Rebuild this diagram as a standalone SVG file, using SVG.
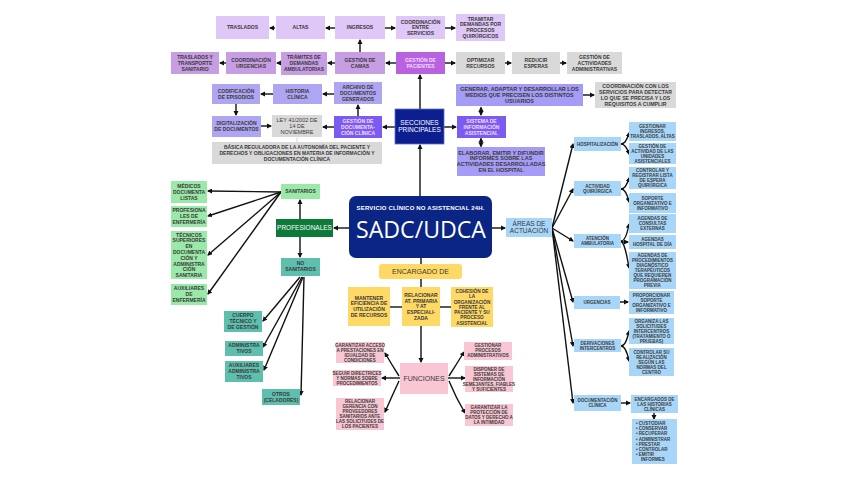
<svg xmlns="http://www.w3.org/2000/svg" width="848" height="477" viewBox="0 0 848 477">
<style>
text{font-family:"Liberation Sans",Arial,sans-serif;font-weight:bold;font-size:5px;fill:#3a3a3a;text-anchor:middle}
.s text{font-size:4.5px}
.lp{fill:#dfc7f7}.mp{fill:#c79de4}.bp{fill:#b862e0}.gr{fill:#d9d9d9}.lv{fill:#aea6f3}.vi{fill:#7c5cf0}.nv{fill:#0d1f8f;stroke:#5a6fd0;stroke-width:0.8}
.ye{fill:#ffd966}.pk{fill:#f9c6d3}.lg{fill:#9be9a8}.dg{fill:#0e7a3a}.tl{fill:#5ebfae}.lb{fill:#a8d6f9}
.w text,text.w{fill:#ffffff}.lt text{fill:#f2dcff}
.c path{fill:none;stroke:#111;stroke-width:1.4;marker-end:url(#a)}
.c path.d{marker-start:url(#a)}
.c path.n{marker-end:none}
</style>
<defs>
<marker id="a" viewBox="0 0 10 10" refX="8" refY="5" markerWidth="3.6" markerHeight="3.6" orient="auto-start-reverse"><path d="M0,0 L10,5 L0,10 z" fill="#111"/></marker>
</defs>
<rect width="848" height="477" fill="#ffffff"/>

<g class="c" id="connectors">
<path d="M275,28 H270"/>
<path d="M335,28 H326"/>
<path d="M385,28 H395"/>
<path d="M445,28 H455"/>
<path d="M396,63 H386"/>
<path d="M335,63 H328"/>
<path d="M281,63 H277"/>
<path d="M226,63 H220"/>
<path d="M360,52 V40"/>
<path d="M445,63 H455"/>
<path d="M505,63 H511"/>
<path d="M560,63 H566"/>
<path d="M420,109 V75"/>
<path d="M334,94 H323"/>
<path d="M273,94 H261"/>
<path d="M236,104 V115"/>
<path d="M261,126 H271"/>
<path d="M334,127 H323"/>
<path d="M358,116 V105"/>
<path d="M395,127 H383"/>
<path d="M297,137.5 V142" class="n" style="stroke:#bbb;stroke-width:0.6"/>
<path d="M444,127 H456"/>
<path d="M481,115 V107.5" class="d"/>
<path d="M481,138.5 V146.5" class="d"/>
<path d="M583,95 H594"/>
<path d="M420,196 V145"/>
<path d="M349,228 H334"/>
<path d="M492,228 H505"/>
<path d="M421,258 V264" class="n"/>
<path d="M421,279 V287" class="n"/>
<path d="M390,307 H402" class="n"/>
<path d="M440,307 H451" class="n"/>
<path d="M421,326 V362"/>
<path d="M300,219 V200"/>
<path d="M300,237 V257"/>
<path d="M281,192 L208,191"/>
<path d="M281,192 L208,216"/>
<path d="M281,192 L208,255"/>
<path d="M281,192 L208,294"/>
<path d="M300,277 L263,321"/>
<path d="M302,277 L263,347"/>
<path d="M303,277 L264,370"/>
<path d="M304,277 L301,395"/>
<path d="M552,228 L573,144"/>
<path d="M552,228 L573,189"/>
<path d="M552,228 L573,241"/>
<path d="M552,228 L573,302"/>
<path d="M552,228 L573,346"/>
<path d="M552,228 L573,403"/>
<path d="M621,144 Q626,144 629,133"/>
<path d="M621,144 Q626,144 629,154"/>
<path d="M621,189 Q626,189 629,178"/>
<path d="M621,189 Q626,189 629,202"/>
<path d="M621,241 Q626,241 629,224"/>
<path d="M621,242 H628"/>
<path d="M621,241 Q625,243 629,268"/>
<path d="M620,302 H628"/>
<path d="M621,346 Q626,346 629,331"/>
<path d="M621,346 Q626,346 629,361"/>
<path d="M621,403 H630"/>
<path d="M654,413 V419"/>
<path d="M399,376 Q392,365 385,353"/>
<path d="M400,378 H382"/>
<path d="M399,381 Q392,396 385,412"/>
<path d="M449,376 Q456,365 464,352"/>
<path d="M448,378 H465"/>
<path d="M449,381 Q456,398 465,413"/>
</g>

<g id="traslados"><rect class="lp" x="216" y="16" width="53" height="23"/><text x="242.5" y="29.3">TRASLADOS</text></g>
<g id="altas"><rect class="lp" x="276" y="16" width="49" height="23"/><text x="300.5" y="29.3">ALTAS</text></g>
<g id="ingresos"><rect class="lp" x="335" y="16" width="50" height="23"/><text x="360" y="29.3">INGRESOS</text></g>
<g id="coord-servicios"><rect class="lp" x="396" y="16" width="49" height="23"/><text x="420.5" y="23.5">COORDINACIÓN</text><text x="420.5" y="29.3">ENTRE</text><text x="420.5" y="35.1">SERVICIOS</text></g>
<g id="tramitar"><rect class="lp" x="456" y="14" width="49" height="27"/><text x="480.5" y="20.6">TRAMITAR</text><text x="480.5" y="26.4">DEMANDAS POR</text><text x="480.5" y="32.2">PROCESOS</text><text x="480.5" y="38">QUIRÚRGICOS</text></g>

<g id="traslados-transporte"><rect class="mp" x="171" y="52" width="48" height="22"/><text x="195" y="59">TRASLADOS Y</text><text x="195" y="64.8">TRANSPORTE</text><text x="195" y="70.6">SANITARIO</text></g>
<g id="coord-urgencias"><rect class="mp" x="226" y="52" width="50" height="22"/><text x="251" y="61.9">COORDINACIÓN</text><text x="251" y="67.7">URGENCIAS</text></g>
<g id="tramites"><rect class="mp" x="281" y="52" width="46" height="23"/><text x="304" y="59">TRÁMITES DE</text><text x="304" y="64.8">DEMANDAS</text><text x="304" y="70.6">AMBULATORIAS</text></g>
<g id="gestion-camas"><rect class="mp" x="335" y="52" width="50" height="22"/><text x="360" y="61.9">GESTIÓN DE</text><text x="360" y="67.7">CAMAS</text></g>
<g id="gestion-pacientes" class="lt"><rect class="bp" x="396" y="52" width="49" height="22"/><text x="420.5" y="61.9">GESTIÓN DE</text><text x="420.5" y="67.7">PACIENTES</text></g>
<g id="optimizar"><rect class="gr" x="456" y="52" width="49" height="22"/><text x="480.5" y="61.9">OPTIMIZAR</text><text x="480.5" y="67.7">RECURSOS</text></g>
<g id="reducir"><rect class="gr" x="512" y="52" width="48" height="22"/><text x="536" y="61.9">REDUCIR</text><text x="536" y="67.7">ESPERAS</text></g>
<g id="gestion-actividades"><rect class="gr" x="567" y="52" width="55" height="22"/><text x="594.5" y="59">GESTIÓN DE</text><text x="594.5" y="64.8">ACTIVIDADES</text><text x="594.5" y="70.6">ADMINISTRATIVAS</text></g>

<g id="codificacion"><rect class="lv" x="212" y="84" width="48" height="20"/><text x="236" y="92.9">CODIFICACIÓN</text><text x="236" y="98.7">DE EPISODIOS</text></g>
<g id="historia"><rect class="lv" x="273" y="84" width="49" height="20"/><text x="297.5" y="92.9">HISTORIA</text><text x="297.5" y="98.7">CLÍNICA</text></g>
<g id="archivo"><rect class="lv" x="334" y="82" width="48" height="22"/><text x="358" y="88.9">ARCHIVO DE</text><text x="358" y="94.7">DOCUMENTOS</text><text x="358" y="100.5">GENERADOS</text></g>
<g id="digitalizacion"><rect class="lv" x="212" y="116" width="49" height="21"/><text x="236.5" y="125.4">DIGITALIZACIÓN</text><text x="236.5" y="131.2">DE DOCUMENTOS</text></g>
<g id="ley"><rect class="gr" x="272" y="115" width="50" height="22"/><text x="297" y="121.9" style="font-weight:normal;font-size:5.5px">LEY 41/2002 DE</text><text x="297" y="127.7" style="font-weight:normal;font-size:5.5px">14 DE</text><text x="297" y="133.5" style="font-weight:normal;font-size:5.5px">NOVIEMBRE</text></g>
<g id="gestion-documentacion" class="lt"><rect class="vi" x="334" y="116" width="48" height="22"/><text x="358" y="122.9">GESTIÓN DE</text><text x="358" y="128.7">DOCUMENTA-</text><text x="358" y="134.5">CIÓN CLÍNICA</text></g>
<g id="basica"><rect class="gr" x="212" y="142" width="170" height="22"/><text x="297" y="148.9">BÁSICA REGULADORA DE LA AUTONOMÍA DEL PACIENTE Y</text><text x="297" y="154.7">DERECHOS Y OBLIGACIONES EN MATERIA DE INFORMACIÓN Y</text><text x="297" y="160.5">DOCUMENTACIÓN CLÍNICA</text></g>

<g id="secciones" class="w"><rect class="nv" x="395" y="109" width="49" height="35"/><text x="419.5" y="124.5" style="font-size:6.5px;font-weight:normal">SECCIONES</text><text x="419.5" y="132" style="font-size:6.5px;font-weight:normal">PRINCIPALES</text></g>
<g id="sistema" class="lt"><rect class="vi" x="457" y="116" width="49" height="22"/><text x="481.5" y="122.9">SISTEMA DE</text><text x="481.5" y="128.7">INFORMACIÓN</text><text x="481.5" y="134.5">ASISTENCIAL</text></g>
<g id="generar"><rect class="lv" x="456" y="84" width="127" height="22" style="fill:#a49cf6"/><text x="519.5" y="90.9" style="font-size:5.5px">GENERAR, ADAPTAR Y DESARROLLAR LOS</text><text x="519.5" y="96.7" style="font-size:5.5px">MEDIOS QUE PRECISEN LOS DISTINTOS</text><text x="519.5" y="102.5" style="font-size:5.5px">USUARIOS</text></g>
<g id="elaborar"><rect class="lv" x="457" y="147" width="88" height="29" style="fill:#a49cf6"/><text x="501" y="154.6" style="font-size:5.5px">ELABORAR, EMITIR Y DIFUNDIR</text><text x="501" y="160.4" style="font-size:5.5px">INFORMES SOBRE LAS</text><text x="501" y="166.2" style="font-size:5.5px">ACTIVIDADES DESARROLLADAS</text><text x="501" y="172" style="font-size:5.5px">EN EL HOSPITAL</text></g>
<g id="coord-detectar"><rect class="gr" x="595" y="82" width="81" height="26"/><text x="635.5" y="88.1" style="font-size:5.2px">COORDINACIÓN CON LOS</text><text x="635.5" y="93.9" style="font-size:5.2px">SERVICIOS PARA DETECTAR</text><text x="635.5" y="99.7" style="font-size:5.2px">LO QUE SE PRECISA Y LOS</text><text x="635.5" y="105.5" style="font-size:5.2px">REQUISITOS A CUMPLIR</text></g>

<g id="sadc"><rect x="349" y="196" width="143" height="62" rx="7" fill="#0b2585"/><text class="w" x="420.5" y="209.5" style="font-size:6px" textLength="128">SERVICIO CLÍNICO NO ASISTENCIAL 24H.</text><text class="w" x="421" y="238" style="font-size:23px;font-weight:normal;font-family:'Open Sans','Liberation Sans',sans-serif" textLength="130" lengthAdjust="spacingAndGlyphs">SADC/UDCA</text></g>

<g id="encargado"><rect class="ye" x="379" y="264" width="83" height="15" rx="3"/><text x="420.5" y="274" style="font-size:7px;font-weight:normal">ENCARGADO DE</text></g>
<g id="mantener"><rect class="ye" x="348" y="287" width="42" height="39"/><text x="369" y="299.6">MANTENER</text><text x="369" y="305.4">EFICIENCIA DE</text><text x="369" y="311.2">UTILIZACIÓN</text><text x="369" y="317">DE RECURSOS</text></g>
<g id="relacionar"><rect class="ye" x="402" y="287" width="38" height="39"/><text x="421" y="296.7">RELACIONAR</text><text x="421" y="302.5">AT. PRIMARIA</text><text x="421" y="308.3">Y AT</text><text x="421" y="314.1">ESPECIALI-</text><text x="421" y="319.9">ZADA</text></g>
<g id="cohesion"><rect class="ye" x="451" y="287" width="42" height="40"/><text x="472" y="292.9" style="font-size:4.7px">COHESIÓN DE</text><text x="472" y="298.2" style="font-size:4.7px">LA</text><text x="472" y="303.5" style="font-size:4.7px">ORGANIZACIÓN</text><text x="472" y="308.8" style="font-size:4.7px">FRENTE AL</text><text x="472" y="314.1" style="font-size:4.7px">PACIENTE Y SU</text><text x="472" y="319.4" style="font-size:4.7px">PROCESO</text><text x="472" y="324.7" style="font-size:4.7px">ASISTENCIAL</text></g>

<g id="funciones"><rect class="pk" x="400" y="363" width="48" height="31"/><text x="424" y="381" style="font-size:7px;font-weight:normal">FUNCIONES</text></g>
<g class="s">
<g id="garantizar-acceso"><rect class="pk" x="336" y="342" width="48" height="21"/><text x="360" y="346.8">GARANTIZAR ACCESO</text><text x="360" y="351.8">A PRESTACIONES EN</text><text x="360" y="356.8">IGUALDAD DE</text><text x="360" y="361.8">CONDICIONES</text></g>
<g id="seguir"><rect class="pk" x="333" y="370" width="48" height="16"/><text x="357" y="374.6">SEGUIR DIRECTRICES</text><text x="357" y="379.6">Y NORMAS SOBRE</text><text x="357" y="384.6">PROCEDIMIENTOS</text></g>
<g id="relacionar-gerencia"><rect class="pk" x="336" y="398" width="48" height="32"/><text x="360" y="403.1">RELACIONAR</text><text x="360" y="408.1">GERENCIA CON</text><text x="360" y="413.1">PROVEEDORES</text><text x="360" y="418.1">SANITARIOS ANTE</text><text x="360" y="423.1">LAS SOLICITUDES DE</text><text x="360" y="428.1">LOS PACIENTES</text></g>
<g id="gestionar-procesos"><rect class="pk" x="464" y="342" width="48" height="18"/><text x="488" y="346.6">GESTIONAR</text><text x="488" y="351.6">PROCESOS</text><text x="488" y="356.6">ADMINISTRATIVOS</text></g>
<g id="disponer"><rect class="pk" x="465" y="366" width="48" height="26"/><text x="489" y="370.6">DISPONER DE</text><text x="489" y="375.6">SISTEMAS DE</text><text x="489" y="380.6">INFORMACIÓN</text><text x="489" y="385.6">SEMEJANTES, FIABLES</text><text x="489" y="390.6">Y SUFICIENTES</text></g>
<g id="garantizar-proteccion"><rect class="pk" x="465" y="404" width="48" height="22"/><text x="489" y="409.1">GARANTIZAR LA</text><text x="489" y="414.1">PROTECCIÓN DE</text><text x="489" y="419.1">DATOS Y DERECHO A</text><text x="489" y="424.1">LA INTIMIDAD</text></g>
</g>

<g id="profesionales"><rect class="dg" x="276" y="219" width="57" height="18"/><text class="w" x="304.5" y="230.3" style="font-size:6.5px;font-weight:normal">PROFESIONALES</text></g>
<g id="sanitarios"><rect class="lg" x="281" y="184" width="39" height="15"/><text x="300.5" y="193.3">SANITARIOS</text></g>
<g id="no-sanitarios"><rect class="tl" x="281" y="258" width="39" height="18"/><text x="300.5" y="264.9">NO</text><text x="300.5" y="270.7">SANITARIOS</text></g>

<g id="medicos"><rect class="lg" x="171" y="181" width="36" height="22"/><text x="189" y="187.9">MÉDICOS</text><text x="189" y="193.7">DOCUMENTA</text><text x="189" y="199.5">LISTAS</text></g>
<g id="enfermeria"><rect class="lg" x="171" y="206" width="36" height="21"/><text x="189" y="212.4">PROFESIONA</text><text x="189" y="218.2">LES DE</text><text x="189" y="224">ENFERMERÍA</text></g>
<g id="tecnicos"><rect class="lg" x="171" y="231" width="36" height="48"/><text x="189" y="236.5">TÉCNICOS</text><text x="189" y="242.3">SUPERIORES</text><text x="189" y="248.1">EN</text><text x="189" y="253.9">DOCUMENTA</text><text x="189" y="259.7">CIÓN Y</text><text x="189" y="265.5">ADMINISTRA</text><text x="189" y="271.3">CIÓN</text><text x="189" y="277.1">SANITARIA</text></g>
<g id="auxiliares-enf"><rect class="lg" x="171" y="284" width="36" height="21"/><text x="189" y="290.4">AUXILIARES</text><text x="189" y="296.2">DE</text><text x="189" y="302">ENFERMERÍA</text></g>

<g id="cuerpo"><rect class="tl" x="224" y="311" width="38" height="21"/><text x="243" y="317.4">CUERPO</text><text x="243" y="323.2">TÉCNICO Y</text><text x="243" y="329">DE GESTIÓN</text></g>
<g id="administrativos"><rect class="tl" x="225" y="341" width="38" height="15"/><text x="244" y="347.4">ADMINISTRA</text><text x="244" y="353.2">TIVOS</text></g>
<g id="aux-admin"><rect class="tl" x="225" y="361" width="38" height="21"/><text x="244" y="367.4">AUXILIARES</text><text x="244" y="373.2">ADMINISTRA</text><text x="244" y="379">TIVOS</text></g>
<g id="otros"><rect class="tl" x="262" y="389" width="38" height="16"/><text x="281" y="395.9">OTROS</text><text x="281" y="401.7">(CELADORES)</text></g>

<g id="areas"><rect class="lb" x="506" y="218" width="46" height="19"/><text x="529" y="225.5" style="font-size:6.5px;font-weight:normal">ÁREAS DE</text><text x="529" y="232.7" style="font-size:6.5px;font-weight:normal">ACTUACIÓN</text></g>
<g class="s">
<g id="hospitalizacion"><rect class="lb" x="574" y="137" width="47" height="14"/><text x="597.5" y="145.6">HOSPITALIZACIÓN</text></g>
<g id="quirurgica"><rect class="lb" x="574" y="181" width="47" height="15"/><text x="597.5" y="187.6">ACTIVIDAD</text><text x="597.5" y="192.6">QUIRÚRGICA</text></g>
<g id="ambulatoria"><rect class="lb" x="574" y="234" width="47" height="14"/><text x="597.5" y="240.1">ATENCIÓN</text><text x="597.5" y="245.1">AMBULATORIA</text></g>
<g id="urgencias"><rect class="lb" x="574" y="296" width="46" height="13"/><text x="597" y="304.1">URGENCIAS</text></g>
<g id="derivaciones"><rect class="lb" x="574" y="339" width="47" height="13"/><text x="597.5" y="344.6">DERIVACIONES</text><text x="597.5" y="349.6">INTERCENTROS</text></g>
<g id="documentacion"><rect class="lb" x="574" y="395" width="47" height="16"/><text x="597.5" y="402.1">DOCUMENTACIÓN</text><text x="597.5" y="407.1">CLÍNICA</text></g>

<g id="gestionar-ingresos"><rect class="lb" x="629" y="122" width="47" height="19"/><text x="652.5" y="128.1">GESTIONAR</text><text x="652.5" y="133.1">INGRESOS,</text><text x="652.5" y="138.1">TRASLADOS, ALTAS</text></g>
<g id="gestion-unidades"><rect class="lb" x="629" y="143" width="47" height="21"/><text x="652.5" y="147.6">GESTIÓN DE</text><text x="652.5" y="152.6">ACTIVIDAD DE LAS</text><text x="652.5" y="157.6">UNIDADES</text><text x="652.5" y="162.6">ASISTENCIALES</text></g>
<g id="controlar-lista"><rect class="lb" x="629" y="167" width="47" height="22"/><text x="652.5" y="172.1">CONTROLAR Y</text><text x="652.5" y="177.1">REGISTRAR LISTA</text><text x="652.5" y="182.1">DE ESPERA</text><text x="652.5" y="187.1">QUIRÚRGICA</text></g>
<g id="soporte"><rect class="lb" x="629" y="193" width="47" height="20"/><text x="652.5" y="199.6">SOPORTE</text><text x="652.5" y="204.6">ORGANIZATIVO E</text><text x="652.5" y="209.6">INFORMATIVO</text></g>
<g id="agendas-consultas"><rect class="lb" x="629" y="214" width="47" height="19"/><text x="652.5" y="220.1">AGENDAS DE</text><text x="652.5" y="225.1">CONSULTAS</text><text x="652.5" y="230.1">EXTERNAS</text></g>
<g id="agendas-hdia"><rect class="lb" x="629" y="235" width="47" height="14"/><text x="652.5" y="241.1">AGENDAS</text><text x="652.5" y="246.1">HOSPITAL DE DÍA</text></g>
<g id="agendas-proc"><rect class="lb" x="629" y="252" width="47" height="37"/><text x="652.5" y="257.1">AGENDAS DE</text><text x="652.5" y="262.1">PROCEDIMIENTOS</text><text x="652.5" y="267.1">DIAGNÓSTICO</text><text x="652.5" y="272.1">TERAPÉUTICOS</text><text x="652.5" y="277.1">QUE REQUIEREN</text><text x="652.5" y="282.1">PROGRAMACIÓN</text><text x="652.5" y="287.1">PREVIA</text></g>
<g id="proporcionar"><rect class="lb" x="629" y="291" width="45" height="23"/><text x="651.5" y="296.6">PROPORCIONAR</text><text x="651.5" y="301.6">SOPORTE</text><text x="651.5" y="306.6">ORGANIZATIVO E</text><text x="651.5" y="311.6">INFORMATIVO</text></g>
<g id="organiza"><rect class="lb" x="629" y="318" width="45" height="26"/><text x="651.5" y="322.6">ORGANIZA LAS</text><text x="651.5" y="327.6">SOLICITUDES</text><text x="651.5" y="332.6">INTERCENTROS</text><text x="651.5" y="337.6">(TRATAMIENTO O</text><text x="651.5" y="342.6">PRUEBAS)</text></g>
<g id="controlar-su"><rect class="lb" x="629" y="348" width="45" height="28"/><text x="651.5" y="353.6">CONTROLAR SU</text><text x="651.5" y="358.6">REALIZACIÓN</text><text x="651.5" y="363.6">SEGÚN LAS</text><text x="651.5" y="368.6">NORMAS DEL</text><text x="651.5" y="373.6">CENTRO</text></g>
<g id="encargados"><rect class="lb" x="631" y="395" width="47" height="18"/><text x="654.5" y="400.6">ENCARGADOS DE</text><text x="654.5" y="405.6">LAS HISTORIAS</text><text x="654.5" y="410.6">CLÍNICAS</text></g>
<g id="lista-tareas"><rect class="lb" x="632" y="419" width="45" height="45"/>
<text x="636" y="425" style="text-anchor:start">• CUSTODIAR</text>
<text x="636" y="430.2" style="text-anchor:start">• CONSERVAR</text>
<text x="636" y="435.4" style="text-anchor:start">• RECUPERAR</text>
<text x="636" y="440.6" style="text-anchor:start">• ADMINISTRAR</text>
<text x="636" y="445.8" style="text-anchor:start">• PRESTAR</text>
<text x="636" y="451" style="text-anchor:start">• CONTROLAR</text>
<text x="636" y="456.2" style="text-anchor:start">• EMITIR</text>
<text x="641" y="461.4" style="text-anchor:start">INFORMES</text>
</g>
</g>
</svg>
